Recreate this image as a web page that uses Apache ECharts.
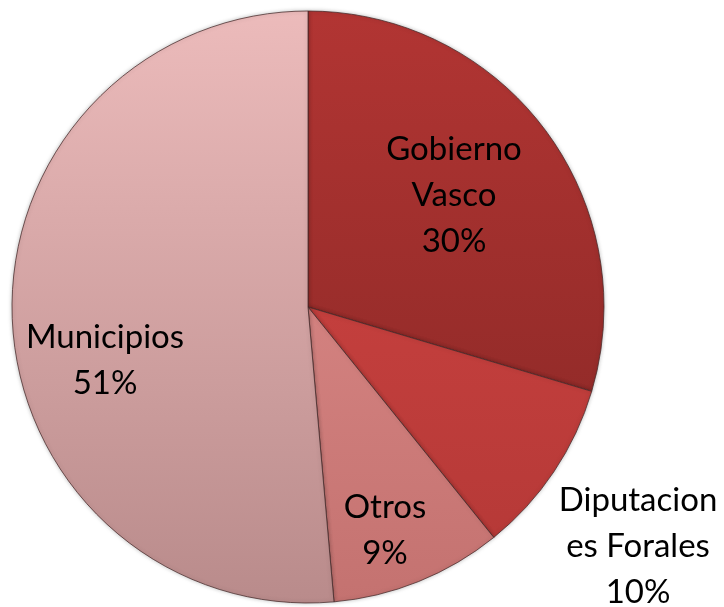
<!DOCTYPE html>
<html lang="es">
<head>
    <meta charset="UTF-8">
    <title>Financiación</title>
    <script src="https://cdn.jsdelivr.net/npm/echarts@6/dist/echarts.min.js"></script>
    <style>
        html, body { margin: 0; padding: 0; background: #fff; }
        #chart { width: 724px; height: 607px; }
    </style>
</head>
<body>
<div id="chart"></div>
<script>
    var categories = ['Gobierno Vasco', 'Diputaciones Forales', 'Otros', 'Municipios'];
    var labelNames = ['Gobierno\nVasco', 'Diputacion\nes Forales', 'Otros', 'Municipios'];
    // labels round to 30 / 10 / 9 / 51 %
    var values = [29.6, 9.6, 9.4, 51.4];

    // top / bottom colour of each slice (lit from above)
    var topColors = ['#b23533', '#d44644', '#e2918f', '#ecbbbb'];
    var bottomColors = ['#842624', '#b33836', '#c47270', '#b98b8b'];

    var CX = 308, CY = 307, R = 296;
    // label centre, relative to the pie centre
    var labelSpots = [[146, -112], [330, 239], [77, 223], [-203, 53]];

    function shade(i) {
        return new echarts.graphic.LinearGradient(0, CY - R, 0, CY + R, [
            {offset: 0, color: topColors[i]},
            {offset: 1, color: bottomColors[i]}
        ], true);
    }

    var data = [];
    for (var i = 0; i < categories.length; i++) {
        data.push({
            name: categories[i],
            value: values[i],
            itemStyle: {color: shade(i)}
        });
    }

    var chart = echarts.init(document.getElementById('chart'));
    chart.setOption({
        animation: false,
        series: [{
            type: 'pie',
            center: [CX, CY],
            radius: R,
            startAngle: 90,
            clockwise: true,
            percentPrecision: 0,
            data: data,
            itemStyle: {
                borderColor: 'rgba(70, 40, 40, 0.75)',
                borderWidth: 1,
                shadowColor: 'rgba(0, 0, 0, 0.25)',
                shadowBlur: 4
            },
            label: {
                show: true,
                position: 'inside',
                color: '#000',
                fontFamily: 'Lato',
                fontSize: 33,
                lineHeight: 46,
                align: 'center',
                formatter: function (p) {
                    return labelNames[p.dataIndex] + '\n' + p.percent + '%';
                }
            },
            labelLine: {show: false},
            labelLayout: function (p) {
                var s = labelSpots[p.dataIndex];
                return {x: CX + s[0], y: CY + s[1], align: 'center', verticalAlign: 'middle'};
            }
        }]
    });
</script>
</body>
</html>
